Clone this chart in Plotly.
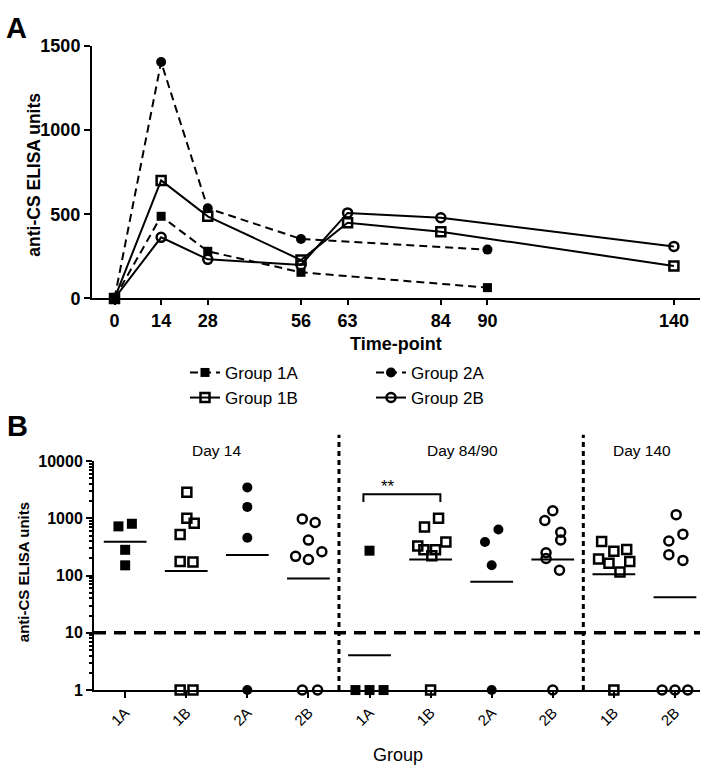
import plotly.graph_objects as go

W, H = 712, 778
def px(x): return x / W
def py(y): return 1 - y / H

FONT = "Liberation Sans, Arial, sans-serif"

# ---------------- Panel A data ----------------
time_labels = ["0", "14", "28", "56", "63", "84", "90", "140"]
time_slot = [0, 1, 2, 4, 5, 7, 8, 12]          # uneven axis slots used by the reference
days_A = [0, 14, 28, 56, 90]
days_B = [0, 14, 28, 56, 63, 84, 140]
g1A = [0, 488, 280, 155, 64]
g1B = [0, 701, 488, 228, 450, 396, 193]
g2A = [0, 1405, 536, 353, 290]
g2B = [0, 363, 232, 199, 508, 479, 309]

# ---------------- Panel B data ----------------
groups_B = ["1A", "1B", "2A", "2B", "1A", "1B", "2A", "2B", "1B", "2B"]
day_labels = ["Day 14", "Day 84/90", "Day 140"]
d14_1A = [724, 804, 282, 151]
d14_1B = [2851, 1002, 824, 523, 177, 172, 1, 1]
d14_2A = [3470, 1585, 458, 1]
d14_2B = [977, 847, 417, 217, 191, 261, 1, 1]
d84_1A = [272, 1, 1, 1]
d84_1B = [1000, 705, 330, 387, 282, 282, 223, 1]
d84_2A = [636, 387, 151, 1]
d84_2B = [1355, 916, 572, 418, 251, 199, 124, 1]
d140_1B = [395, 265, 285, 195, 165, 177, 115, 1]
d140_2B = [1158, 529, 402, 232, 184, 1, 1, 1]
geo_means = [390, 120, 228, 89, 4.05, 191, 78, 191, 106, 42]

# horizontal scatter (jitter) of points within each group column
jit_d14_1A = [-0.11, 0.11, 0.0, 0.0]
jit_d14_1B = [0.01, 0.01, 0.13, -0.10, -0.10, 0.11, -0.10, 0.11]
jit_d14_2A = [0, 0, 0, 0]
jit_d14_2B = [-0.10, 0.11, 0.0, -0.21, 0.0, 0.22, -0.10, 0.15]
jit_d84_1A = [0.0, -0.23, 0.0, 0.23]
jit_d84_1B = [0.13, -0.10, -0.21, 0.25, -0.11, 0.08, 0.02, 0.0]
jit_d84_2A = [0.11, -0.11, 0.0, 0.0]
jit_d84_2B = [0.0, -0.13, 0.13, 0.13, -0.11, -0.11, 0.11, 0.0]
jit_d140_1B = [-0.20, 0.0, 0.21, -0.25, -0.08, 0.26, 0.10, 0.0]
jit_d140_2B = [0.02, 0.13, -0.10, -0.10, 0.13, -0.21, 0.0, 0.21]

slot_of = dict(zip([int(t) for t in time_labels], time_slot))

fig = go.Figure()

# ---------------- Panel A traces ----------------
styleA = {
    "Group 1A": dict(days=days_A, vals=g1A, dash="8px,5px", sym="square", size=9, lw=0, leg="legend"),
    "Group 1B": dict(days=days_B, vals=g1B, dash="solid", sym="square-open", size=9, lw=2.5, leg="legend"),
    "Group 2A": dict(days=days_A, vals=g2A, dash="8px,5px", sym="circle", size=10, lw=0, leg="legend2"),
    "Group 2B": dict(days=days_B, vals=g2B, dash="solid", sym="circle-open", size=9, lw=2.5, leg="legend2"),
}
for name, s in styleA.items():
    fig.add_trace(go.Scatter(
        x=[slot_of[d] for d in s["days"]], y=s["vals"], name=name,
        mode="lines+markers", xaxis="x", yaxis="y", cliponaxis=False,
        line=dict(color="black", width=2, dash=s["dash"]),
        marker=dict(symbol=s["sym"], size=s["size"], color="black",
                    line=dict(color="black", width=s["lw"])),
        legend=s["leg"], showlegend=True,
    ))

# ---------------- Panel B traces ----------------
sets_B = [
    (d14_1A, jit_d14_1A), (d14_1B, jit_d14_1B), (d14_2A, jit_d14_2A), (d14_2B, jit_d14_2B),
    (d84_1A, jit_d84_1A), (d84_1B, jit_d84_1B), (d84_2A, jit_d84_2A), (d84_2B, jit_d84_2B),
    (d140_1B, jit_d140_1B), (d140_2B, jit_d140_2B),
]
sym_of = {"1A": ("square", 10, 0), "1B": ("square-open", 9, 2.5),
          "2A": ("circle", 10, 0), "2B": ("circle-open", 9, 2.5)}
for i, (g, (vals, jit)) in enumerate(zip(groups_B, sets_B)):
    sym, size, lw = sym_of[g]
    fig.add_trace(go.Scatter(
        x=[i + j for j in jit], y=vals, mode="markers", xaxis="x2", yaxis="y2",
        cliponaxis=False, showlegend=False,
        marker=dict(symbol=sym, size=size, color="black", line=dict(color="black", width=lw)),
    ))

# geometric mean bars
mx, my = [], []
for i, m in enumerate(geo_means):
    mx += [i - 0.35, i + 0.35, None]
    my += [m, m, None]
fig.add_trace(go.Scatter(x=mx, y=my, mode="lines", xaxis="x2", yaxis="y2", showlegend=False,
                         line=dict(color="black", width=2)))

# detection limit line at 10
fig.add_trace(go.Scatter(x=[-0.51, 9.41], y=[10, 10], mode="lines", xaxis="x2", yaxis="y2",
                         showlegend=False, line=dict(color="black", width=3.5, dash="12px,8px")))

# ---------------- Layout ----------------
tickA = dict(family=FONT, size=18, color="black", weight="bold")
axis_common = dict(showline=True, linecolor="black", linewidth=2, showgrid=False, zeroline=False,
                   ticks="outside", tickcolor="black", tickwidth=2)

fig.update_layout(
    width=W, height=H, margin=dict(l=0, r=0, t=0, b=0),
    paper_bgcolor="white", plot_bgcolor="white",
    xaxis=dict(**axis_common, domain=[px(92), px(700)], range=[-0.483, 12.56], anchor="y",
               tickvals=time_slot, ticktext=time_labels, ticklen=5, tickfont=tickA),
    yaxis=dict(**axis_common, domain=[py(296), py(37)], range=[0, 1500], anchor="x",
               tickvals=[0, 500, 1000, 1500], ticklen=6, tickfont=tickA),
    xaxis2=dict(**axis_common, domain=[px(94), px(700)], range=[-0.51, 9.41], anchor="y2",
                tickvals=list(range(len(groups_B))), ticktext=groups_B, tickangle=-45, ticklen=6,
                tickfont=dict(family=FONT, size=15, color="black")),
    yaxis2=dict(**axis_common, type="log", domain=[py(698), py(463)], range=[0, 4], anchor="x2",
                tickvals=[1, 10, 100, 1000, 10000], ticktext=["1", "10", "100", "1000", "10000"],
                ticklen=6, tickfont=dict(family=FONT, size=16, color="black", weight="bold"),
                minor=dict(ticks="outside", ticklen=3, tickwidth=1.5, tickcolor="black",
                           tickvals=[k * 10 ** e for e in range(4) for k in range(2, 10)])),
    legend=dict(x=px(185), y=py(354), xanchor="left", yanchor="top", bgcolor="rgba(0,0,0,0)",
                font=dict(family=FONT, size=17, color="black"), tracegroupgap=0),
    legend2=dict(x=px(371), y=py(354), xanchor="left", yanchor="top", bgcolor="rgba(0,0,0,0)",
                 font=dict(family=FONT, size=17, color="black"), tracegroupgap=0),
)

shapes = []
for xv, ytop in [(3.5, 436), (7.5, 436)]:
    shapes.append(dict(type="line", xref="x2", yref="paper", x0=xv, x1=xv, y0=py(698), y1=py(ytop),
                       line=dict(color="black", width=3, dash="5px,4px")))
# significance bracket between 1A and 1B at Day 84/90
shapes.append(dict(type="path", xref="x2", yref="paper",
                   path=f"M 3.9,{py(505)} L 3.9,{py(497)} L 5.16,{py(497)} L 5.16,{py(505)}",
                   line=dict(color="black", width=2)))
fig.update_layout(shapes=shapes)

ann = []
def A(x, y, text, size, bold=False, angle=0):
    ann.append(dict(x=px(x), y=py(y), xref="paper", yref="paper", text=text, showarrow=False,
                    textangle=angle, xanchor="center", yanchor="middle",
                    font=dict(family=FONT, size=size, color="black", weight="bold" if bold else "normal")))
A(16, 18, "A", 29, True)
A(17, 427, "B", 29, True)
A(34, 169, "anti-CS ELISA units", 17.5, True, -90)
A(396, 343, "Time-point", 18, True)
A(23, 577, "anti-CS ELISA units", 15, True, -90)
A(398, 765, "Group", 18)
A(216, 452, day_labels[0], 15.5)
A(462, 452, day_labels[1], 15.5)
A(642, 452, day_labels[2], 15.5)
A(388, 489, "**", 17)
fig.update_layout(annotations=ann)

fig.write_html("out.html", config={"displayModeBar": False},
               post_script="document.body.style.margin='0';document.body.style.overflow='hidden';")
